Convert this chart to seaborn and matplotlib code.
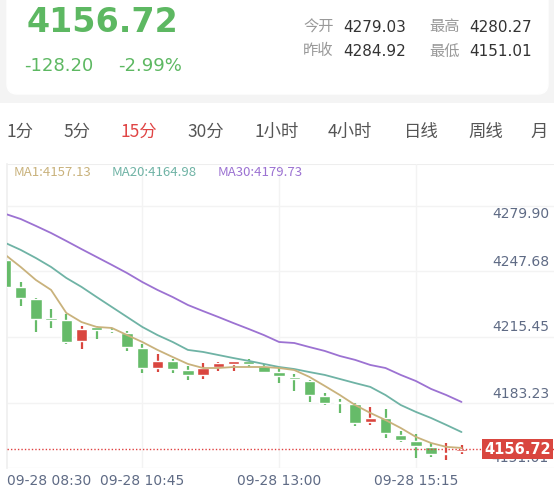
import numpy as np
import pandas as pd
import matplotlib
matplotlib.use("Agg")
import matplotlib.pyplot as plt
from matplotlib.patches import FancyBboxPatch, Rectangle
import seaborn as sns

sns.set_theme(style="white")
plt.rcParams['font.family'] = ['Noto Sans CJK SC', 'DejaVu Sans']

opens  = [4253.3,4240.1,4234.2,4224.8,4223.8,4213.5,4220.4,4218.9,4217.4,4210.0,4200.2,4203.7,4199.2,4196.8,4200.7,4202.2,
          4203.7,4201.2,4198.2,4195.8,4193.8,4186.4,4183.5,4182.5,4173.6,4175.6,4167.3,4164.3,4161.4,4157.9,4159.4]
closes = [4240.1,4234.6,4224.3,4223.8,4213.0,4219.4,4218.9,4218.4,4210.5,4200.2,4203.7,4199.7,4196.8,4200.2,4202.7,4203.7,
          4202.2,4198.2,4196.3,4194.8,4186.9,4183.0,4183.0,4173.2,4175.6,4168.2,4164.8,4161.8,4157.9,4158.4,4160.4]
highs  = [4253.3,4242.5,4234.6,4229.2,4226.8,4220.9,4220.9,4219.9,4218.4,4212.0,4207.1,4204.6,4201.2,4202.7,4203.2,4203.7,
          4204.6,4202.2,4200.7,4197.3,4194.3,4187.9,4185.0,4183.0,4181.0,4180.0,4169.2,4167.7,4163.3,4163.3,4162.3]
lows   = [4240.1,4230.7,4217.9,4219.9,4212.0,4209.6,4214.5,4217.4,4208.6,4197.8,4198.2,4197.8,4194.3,4194.8,4198.7,4198.7,
          4200.7,4197.8,4192.8,4188.9,4183.5,4182.0,4178.1,4171.7,4172.2,4165.8,4163.8,4155.9,4156.4,4155.0,4157.9]
ma1  = [4255.8,4249.9,4243.5,4238.6,4227.3,4222.8,4220.4,4219.9,4216.4,4213.0,4209.1,4205.6,4202.2,4200.2,4200.2,4200.7,
        4200.7,4200.7,4200.2,4199.2,4195.8,4191.4,4186.9,4182.0,4178.1,4174.6,4170.7,4166.3,4163.3,4161.4,4160.9]
ma20 = [4261.7,4258.3,4254.3,4249.9,4244.5,4240.1,4235.1,4230.2,4225.3,4220.4,4216.4,4213.0,4209.1,4208.1,4206.6,4205.1,
        4203.7,4202.2,4200.7,4199.7,4198.2,4196.8,4194.8,4192.8,4190.9,4186.9,4182.0,4178.6,4175.6,4172.2,4168.7]
ma30 = [4276.0,4273.5,4270.1,4266.6,4262.7,4258.7,4254.8,4250.9,4246.9,4242.5,4238.6,4235.1,4231.2,4228.2,4225.3,4222.3,
        4219.4,4216.4,4213.0,4212.5,4210.5,4208.6,4206.1,4204.2,4201.7,4200.2,4196.8,4193.8,4189.9,4186.9,4183.5]
price_levels = [4279.90, 4247.68, 4215.45, 4183.23, 4151.01]
time_labels = ["09-28 08:30", "09-28 10:45", "09-28 13:00", "09-28 15:15"]
time_idx = [0, 9, 18, 27]
tabs = ["1分", "5分", "15分", "30分", "1小时", "4小时", "日线", "周线", "月"]
tab_x = [7, 63, 120, 187, 255, 328, 404, 468, 530]
last_price = "4156.72"
last_line = 4160.4

W, H = 554, 490
fig = plt.figure(figsize=(W/100, H/100), dpi=100)
fig.patch.set_facecolor("white")

def fx(x): return x / W
def fy(y): return 1 - y / H

bg = fig.add_axes([0, fy(103), 1, 103/H]); bg.axis("off")
bg.set_xlim(0, W); bg.set_ylim(103, 0)
bg.add_patch(Rectangle((0, 0), W, 103, color="#f4f4f4"))
bg.add_patch(FancyBboxPatch((7, -20), 541, 114, boxstyle="round,pad=0,rounding_size=10", color="white"))

GREEN = "#5db862"
fig.text(fx(27), fy(23), last_price, color=GREEN, fontsize=24, fontweight="bold", va="center", family=["DejaVu Sans"])
fig.text(fx(24), fy(66), "-128.20", color=GREEN, fontsize=13, va="center", family=["DejaVu Sans"])
fig.text(fx(118), fy(66), "-2.99%", color=GREEN, fontsize=13, va="center", family=["DejaVu Sans"])
for (lab, val, x, y) in [("今开", "4279.03", 303, 27), ("最高", "4280.27", 429, 27),
                         ("昨收", "4284.92", 303, 51), ("最低", "4151.01", 429, 51)]:
    fig.text(fx(x), fy(y), lab, color="#999999", fontsize=11, va="center")
    fig.text(fx(x + 40), fy(y), val, color="#333333", fontsize=11, va="center", family=["DejaVu Sans"])

for t, x in zip(tabs, tab_x):
    fig.text(fx(x), fy(132), t, color="#e04545" if t == "15分" else "#555555", fontsize=12.5, va="center")

fig.text(fx(14), fy(172), "MA1:4157.13", color="#c9b27c", fontsize=9.5, va="center")
fig.text(fx(112), fy(172), "MA20:4164.98", color="#6fb3a5", fontsize=9.5, va="center")
fig.text(fx(218), fy(172), "MA30:4179.73", color="#9c72d2", fontsize=9.5, va="center")

ax = fig.add_axes([fx(7), fy(468), (W - 7)/W, (468 - 164)/H])
ax.set_facecolor("white")
xs = np.arange(len(opens))
ax.set_xlim((7 - 5.5)/15.2, (554 - 5.5)/15.2)
ax.set_ylim(4151.01, 4300.56)
for s in ["top", "right", "bottom"]:
    ax.spines[s].set_visible(False)
ax.spines["left"].set_color("#f0f0f0")
ax.set_xticks([]); ax.set_yticks([])
for p in price_levels:
    ax.axhline(p, color="#f3f3f3", lw=1, zorder=0)
ax.axhline(4300.56, color="#eeeeee", lw=1.5, zorder=0)
for i in time_idx[1:]:
    ax.axvline(i, color="#f3f3f3", lw=1, zorder=0)

RED, GRN = "#d9463f", "#66bb69"
o, c, h, l = map(np.array, (opens, closes, highs, lows))
cols = [RED if cc > oo else GRN for oo, cc in zip(o, c)]
ax.vlines(xs, l, h, colors=cols, lw=1.6, zorder=2)
ax.bar(xs, np.maximum(np.abs(c - o), 0.7), bottom=np.minimum(o, c), width=0.76, color=cols, zorder=3)

df = pd.DataFrame({"i": xs, "MA1": ma1, "MA20": ma20, "MA30": ma30})
for col, colr in [("MA30", "#9c72d2"), ("MA20", "#6fb3a5"), ("MA1", "#c9b27c")]:
    sns.lineplot(data=df, x="i", y=col, ax=ax, color=colr, lw=1.3, zorder=4)
ax.set_xlabel(""); ax.set_ylabel("")

ax.axhline(last_line, color="#e04040", lw=1, ls=(0, (1, 1.5)), zorder=5)

label_y = [214, 262, 327, 394, 458]
for p, y in zip(price_levels, label_y):
    fig.text(fx(549), fy(y), f"{p:.2f}", color="#5f6b85", fontsize=10, ha="right", va="center", family=["DejaVu Sans"])
fig.text(fx(551), fy(449), last_price, color="white", fontsize=10.5, fontweight="bold", ha="right", va="center",
         family=["DejaVu Sans"], bbox=dict(boxstyle="square,pad=0.15", fc="#d9463f", ec="none"))

for k, (lab, i) in enumerate(zip(time_labels, time_idx)):
    x = 5.5 + 15.2 * i
    fig.text(fx(7) if k == 0 else fx(x), fy(481), lab, color="#5f6b85", fontsize=10,
             ha="left" if k == 0 else "center", va="center", family=["DejaVu Sans"])

fig.savefig("out.png", dpi=100)
